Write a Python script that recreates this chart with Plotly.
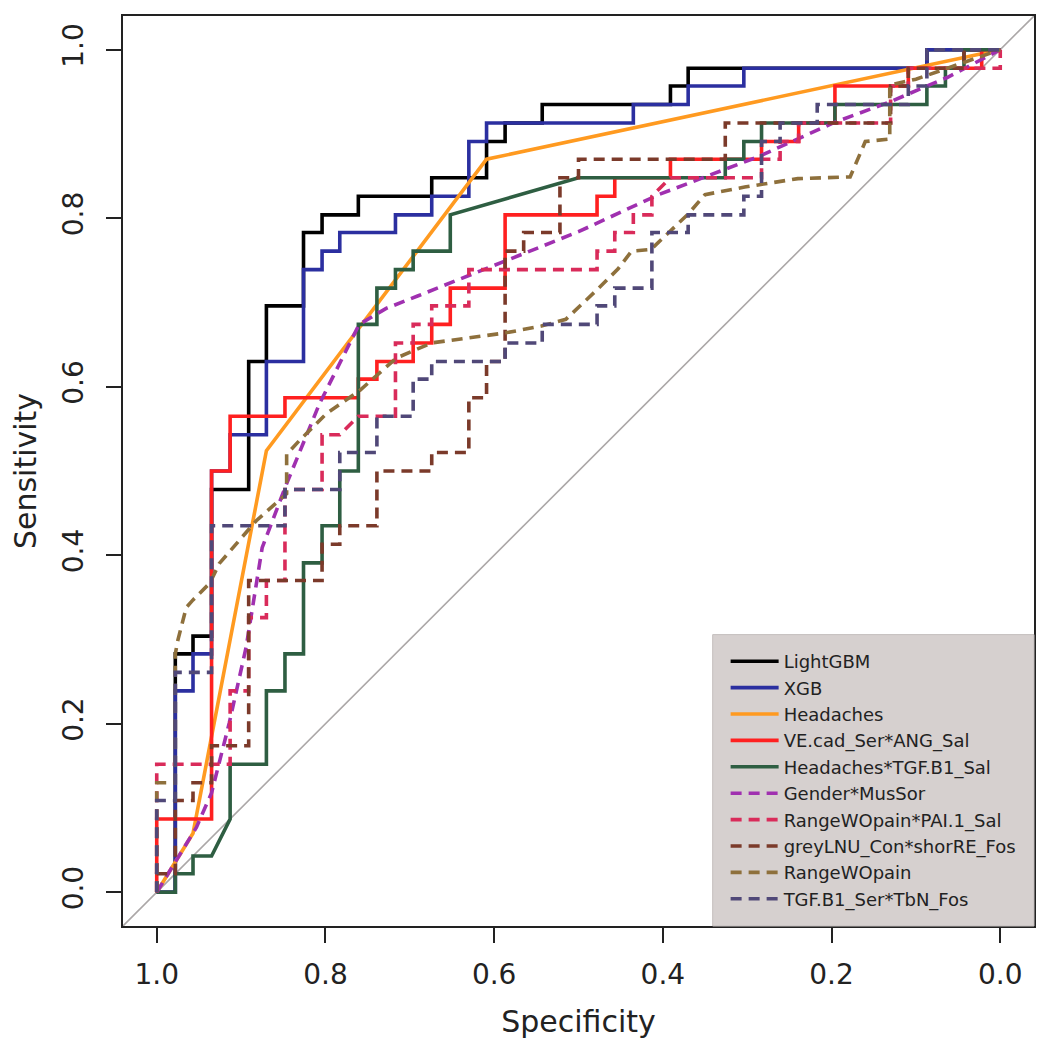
import plotly.graph_objects as go

# ---------------- data (specificity, sensitivity) ----------------
names = ["LightGBM", "XGB", "Headaches", "VE.cad_Ser*ANG_Sal", "Headaches*TGF.B1_Sal",
         "Gender*MusSor", "RangeWOpain*PAI.1_Sal", "greyLNU_Con*shorRE_Fos",
         "RangeWOpain", "TGF.B1_Ser*TbN_Fos"]

lgbm_spec = [1.000, 0.978, 0.978, 0.957, 0.957, 0.935, 0.935, 0.891, 0.891, 0.870, 0.870, 0.826, 0.826,
             0.804, 0.804, 0.761, 0.761, 0.674, 0.674, 0.609, 0.609, 0.587, 0.587, 0.543, 0.543, 0.391,
             0.391, 0.370, 0.370, 0.087, 0.087, 0.000]
lgbm_sens = [0.000, 0.000, 0.283, 0.283, 0.304, 0.304, 0.478, 0.478, 0.630, 0.630, 0.696, 0.696, 0.783,
             0.783, 0.804, 0.804, 0.826, 0.826, 0.848, 0.848, 0.891, 0.891, 0.913, 0.913, 0.935, 0.935,
             0.957, 0.957, 0.978, 0.978, 1.000, 1.000]

xgb_spec = [1.000, 0.978, 0.978, 0.957, 0.957, 0.935, 0.935, 0.913, 0.913, 0.870, 0.870, 0.826, 0.826,
            0.804, 0.804, 0.783, 0.783, 0.717, 0.717, 0.674, 0.674, 0.630, 0.630, 0.609, 0.609, 0.435,
            0.435, 0.370, 0.370, 0.304, 0.304, 0.087, 0.087, 0.000]
xgb_sens = [0.000, 0.000, 0.239, 0.239, 0.283, 0.283, 0.500, 0.500, 0.543, 0.543, 0.630, 0.630, 0.739,
            0.739, 0.761, 0.761, 0.783, 0.783, 0.804, 0.804, 0.826, 0.826, 0.891, 0.891, 0.913, 0.913,
            0.935, 0.935, 0.957, 0.957, 0.978, 0.978, 1.000, 1.000]

head_spec = [1.000, 0.957, 0.870, 0.609, 0.000]
head_sens = [0.000, 0.070, 0.524, 0.870, 1.000]

vecad_spec = [1.000, 1.000, 0.935, 0.935, 0.913, 0.913, 0.848, 0.848, 0.761, 0.761, 0.739, 0.739, 0.696,
              0.696, 0.674, 0.674, 0.652, 0.652, 0.587, 0.587, 0.478, 0.478, 0.457, 0.457, 0.391, 0.391,
              0.283, 0.283, 0.239, 0.239, 0.196, 0.196, 0.109, 0.109, 0.022, 0.022, 0.000]
vecad_sens = [0.000, 0.087, 0.087, 0.500, 0.500, 0.565, 0.565, 0.587, 0.587, 0.609, 0.609, 0.630, 0.630,
              0.652, 0.652, 0.674, 0.674, 0.717, 0.717, 0.804, 0.804, 0.826, 0.826, 0.848, 0.848, 0.870,
              0.870, 0.891, 0.891, 0.913, 0.913, 0.957, 0.957, 0.978, 0.978, 1.000, 1.000]

htgf_spec = [1.000, 0.978, 0.978, 0.957, 0.957, 0.935, 0.913, 0.913, 0.870, 0.870, 0.848, 0.848, 0.826,
             0.826, 0.804, 0.804, 0.783, 0.783, 0.761, 0.761, 0.739, 0.739, 0.717, 0.717, 0.696, 0.696,
             0.652, 0.652, 0.500, 0.326, 0.326, 0.304, 0.304, 0.283, 0.283, 0.196, 0.196, 0.087, 0.087,
             0.065, 0.065, 0.043, 0.043, 0.000]
htgf_sens = [0.000, 0.000, 0.022, 0.022, 0.043, 0.043, 0.087, 0.152, 0.152, 0.239, 0.239, 0.283, 0.283,
             0.391, 0.391, 0.435, 0.435, 0.500, 0.500, 0.674, 0.674, 0.717, 0.717, 0.739, 0.739, 0.761,
             0.761, 0.804, 0.848, 0.848, 0.870, 0.870, 0.891, 0.891, 0.913, 0.913, 0.935, 0.935, 0.957,
             0.957, 0.978, 0.978, 1.000, 1.000]

gender_spec = [1.000, 0.953, 0.935, 0.914, 0.894, 0.882, 0.875, 0.846, 0.807, 0.760, 0.728, 0.690, 0.500,
               0.405, 0.287, 0.196, 0.131, 0.063, 0.000]
gender_sens = [0.000, 0.077, 0.118, 0.201, 0.291, 0.370, 0.409, 0.485, 0.580, 0.674, 0.693, 0.708, 0.784,
               0.828, 0.873, 0.914, 0.938, 0.967, 1.000]

pai_spec = [1.000, 1.000, 0.913, 0.913, 0.891, 0.891, 0.870, 0.870, 0.848, 0.848, 0.804, 0.804, 0.783,
            0.761, 0.717, 0.717, 0.696, 0.696, 0.674, 0.674, 0.630, 0.630, 0.478, 0.478, 0.457, 0.457,
            0.435, 0.435, 0.413, 0.413, 0.391, 0.283, 0.283, 0.261, 0.261, 0.239, 0.239, 0.130, 0.130,
            0.109, 0.109, 0.000, 0.000]
pai_sens = [0.000, 0.152, 0.152, 0.239, 0.239, 0.326, 0.326, 0.370, 0.370, 0.478, 0.478, 0.543, 0.543,
            0.565, 0.565, 0.652, 0.652, 0.674, 0.674, 0.696, 0.696, 0.739, 0.739, 0.761, 0.761, 0.783,
            0.783, 0.804, 0.804, 0.826, 0.848, 0.848, 0.870, 0.870, 0.891, 0.891, 0.913, 0.913, 0.957,
            0.957, 0.978, 0.978, 1.000]

grey_spec = [1.000, 1.000, 0.978, 0.978, 0.957, 0.957, 0.935, 0.935, 0.891, 0.891, 0.804, 0.804, 0.783,
             0.783, 0.739, 0.739, 0.674, 0.674, 0.630, 0.630, 0.609, 0.609, 0.587, 0.587, 0.565, 0.565,
             0.522, 0.522, 0.500, 0.500, 0.326, 0.326, 0.130, 0.130, 0.109, 0.109, 0.043, 0.043, 0.000]
grey_sens = [0.000, 0.022, 0.022, 0.109, 0.109, 0.130, 0.130, 0.174, 0.174, 0.370, 0.370, 0.413, 0.413,
             0.435, 0.435, 0.500, 0.500, 0.522, 0.522, 0.587, 0.587, 0.630, 0.630, 0.761, 0.761, 0.783,
             0.783, 0.848, 0.848, 0.870, 0.870, 0.913, 0.913, 0.957, 0.957, 0.978, 0.978, 1.000, 1.000]

range_spec = [1.000, 1.000, 0.978, 0.978, 0.975, 0.965, 0.957, 0.937, 0.926, 0.882, 0.846, 0.846, 0.831,
              0.799, 0.760, 0.716, 0.674, 0.586, 0.544, 0.515, 0.476, 0.453, 0.437, 0.414, 0.370, 0.350,
              0.303, 0.240, 0.178, 0.160, 0.131, 0.131, 0.100, 0.000]
range_sens = [0.000, 0.130, 0.130, 0.283, 0.299, 0.338, 0.347, 0.367, 0.390, 0.441, 0.473, 0.520, 0.536,
              0.568, 0.595, 0.634, 0.652, 0.664, 0.672, 0.680, 0.717, 0.740, 0.761, 0.763, 0.805, 0.828,
              0.837, 0.847, 0.849, 0.891, 0.894, 0.958, 0.965, 1.000]

tgf_spec = [1.000, 1.000, 0.978, 0.978, 0.935, 0.935, 0.848, 0.848, 0.783, 0.783, 0.739, 0.739, 0.696,
            0.696, 0.674, 0.674, 0.587, 0.587, 0.543, 0.543, 0.478, 0.478, 0.457, 0.457, 0.413, 0.413,
            0.370, 0.370, 0.304, 0.304, 0.283, 0.283, 0.261, 0.261, 0.217, 0.217, 0.109, 0.109, 0.087,
            0.087, 0.000]
tgf_sens = [0.000, 0.109, 0.109, 0.261, 0.261, 0.435, 0.435, 0.478, 0.478, 0.522, 0.522, 0.565, 0.565,
            0.609, 0.609, 0.630, 0.630, 0.652, 0.652, 0.674, 0.674, 0.696, 0.696, 0.717, 0.717, 0.783,
            0.783, 0.804, 0.804, 0.826, 0.826, 0.891, 0.891, 0.913, 0.913, 0.935, 0.935, 0.957, 0.957,
            1.000, 1.000]

x_ticks = [1.0, 0.8, 0.6, 0.4, 0.2, 0.0]
y_ticks = [0.0, 0.2, 0.4, 0.6, 0.8, 1.0]
tick_text = ["1.0", "0.8", "0.6", "0.4", "0.2", "0.0"]
y_tick_text = ["0.0", "0.2", "0.4", "0.6", "0.8", "1.0"]

# ---------------- styling ----------------
curves = [(lgbm_spec, lgbm_sens), (xgb_spec, xgb_sens), (head_spec, head_sens),
          (vecad_spec, vecad_sens), (htgf_spec, htgf_sens), (gender_spec, gender_sens),
          (pai_spec, pai_sens), (grey_spec, grey_sens), (range_spec, range_sens), (tgf_spec, tgf_sens)]
colors = ["#000000", "#2B2FA0", "#FF9A20", "#FF2020", "#2E5E42",
          "#A030B0", "#D92B5A", "#7B3A2A", "#8E703C", "#504878"]
dashes = ["solid"] * 5 + ["11px,7px"] * 5

FONT = "DejaVu Sans"
TXT = "#222222"
fig = go.Figure()

# chance diagonal
fig.add_trace(go.Scatter(x=[1.04, -0.04], y=[-0.04, 1.04], mode="lines",
                         line=dict(color="#ABA7A7", width=1.6), showlegend=False, hoverinfo="skip"))

for (sx, sy), nm, c, d in zip(curves, names, colors, dashes):
    fig.add_trace(go.Scatter(x=sx, y=sy, mode="lines", name=nm,
                             line=dict(color=c, width=3.6, dash=d)))

axis_common = dict(showgrid=False, zeroline=False, showline=True, mirror=True,
                   linecolor=TXT, linewidth=1.6, ticks="outside", ticklen=15,
                   tickwidth=1.6, tickcolor=TXT,
                   tickfont=dict(family=FONT, size=28, color=TXT))

fig.update_xaxes(range=[1.04, -0.04], tickmode="array", tickvals=x_ticks, ticktext=tick_text,
                 ticklabelstandoff=8,
                 title=dict(text="Specificity", font=dict(family=FONT, size=30, color=TXT),
                            standoff=21),
                 **axis_common)
fig.update_yaxes(range=[-0.04, 1.04], tickmode="array", tickvals=y_ticks, ticktext=y_tick_text,
                 tickangle=-90, ticklabelstandoff=12,
                 title=dict(text="Sensitivity", font=dict(family=FONT, size=30, color=TXT),
                            standoff=12),
                 **axis_common)

# legend background box (drawn as a shape so its size matches the original)
fig.add_shape(type="rect", xref="paper", yref="paper", x0=0.6473, x1=1.0, y0=0.0, y1=0.3202,
              fillcolor="#D6D0CF", line=dict(color="#C4BEBD", width=1), layer="above")

fig.update_layout(
    width=1034, height=1034,
    margin=dict(l=115, r=6, t=6, b=116),
    paper_bgcolor="white", plot_bgcolor="white",
    font=dict(family=FONT, color=TXT),
    legend=dict(x=0.6615, y=0.311, xanchor="left", yanchor="top",
                bgcolor="rgba(0,0,0,0)", borderwidth=0,
                font=dict(family=FONT, size=18, color=TXT),
                itemwidth=48, tracegroupgap=0),
    showlegend=True,
)

fig.write_html("out.html")
